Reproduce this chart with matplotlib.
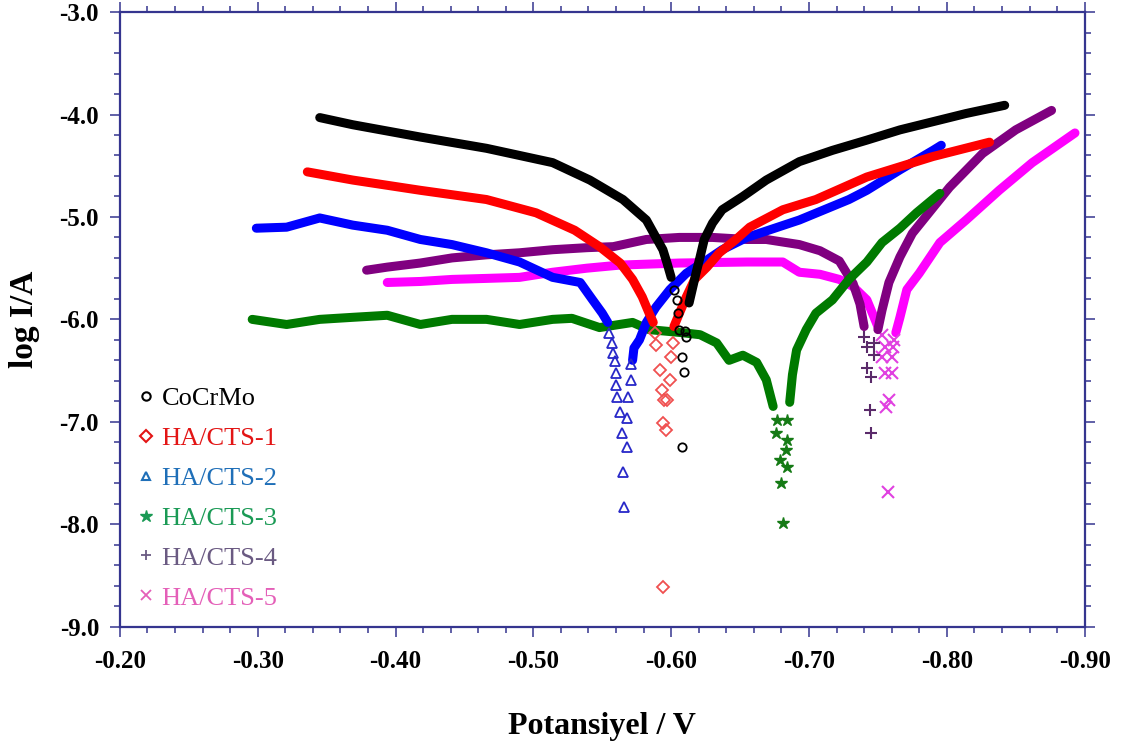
import matplotlib
matplotlib.use("Agg")
import matplotlib.pyplot as plt
from matplotlib.ticker import MultipleLocator, FormatStrFormatter
from matplotlib.lines import Line2D

plt.rcParams['font.family'] = ['Liberation Serif', 'DejaVu Serif']
plt.rcParams['font.weight'] = 'bold'

# ---- data (potential / V, log I/A) ----
# CoCrMo
cocrmo_cath_v = [-0.345, -0.369, -0.418, -0.466, -0.514, -0.541, -0.565, -0.582, -0.589, -0.594, -0.597, -0.600]
cocrmo_cath_i = [-4.03, -4.10, -4.22, -4.33, -4.47, -4.64, -4.83, -5.03, -5.20, -5.32, -5.45, -5.59]
cocrmo_anod_v = [-0.613, -0.618, -0.621, -0.624, -0.630, -0.637, -0.652, -0.669, -0.693, -0.717, -0.742, -0.766, -0.790, -0.814, -0.842]
cocrmo_anod_i = [-5.84, -5.55, -5.39, -5.22, -5.06, -4.93, -4.80, -4.64, -4.46, -4.35, -4.25, -4.15, -4.07, -3.99, -3.91]
cocrmo_tip_v = [-0.602, -0.604, -0.605, -0.606, -0.610, -0.611, -0.608, -0.609, -0.608]
cocrmo_tip_i = [-5.71, -5.81, -5.94, -6.10, -6.11, -6.17, -6.37, -6.51, -7.25]

# HA/CTS-1
cts1_cath_v = [-0.336, -0.369, -0.418, -0.466, -0.502, -0.530, -0.548, -0.563, -0.572, -0.579, -0.584, -0.587]
cts1_cath_i = [-4.56, -4.64, -4.74, -4.83, -4.96, -5.13, -5.29, -5.45, -5.61, -5.78, -5.94, -6.03]
cts1_anod_v = [-0.602, -0.606, -0.611, -0.617, -0.626, -0.635, -0.647, -0.657, -0.681, -0.705, -0.742, -0.790, -0.831]
cts1_anod_i = [-6.07, -5.94, -5.78, -5.61, -5.49, -5.35, -5.22, -5.10, -4.93, -4.83, -4.61, -4.41, -4.27]
cts1_tip_v = [-0.588, -0.589, -0.592, -0.593, -0.595, -0.594, -0.596, -0.594, -0.597, -0.599, -0.600, -0.601]
cts1_tip_i = [-6.13, -6.25, -6.49, -6.69, -6.79, -7.01, -7.08, -8.61, -6.79, -6.59, -6.37, -6.23]

# HA/CTS-2
cts2_cath_v = [-0.299, -0.321, -0.345, -0.369, -0.394, -0.418, -0.441, -0.466, -0.490, -0.514, -0.534, -0.543, -0.550, -0.554]
cts2_cath_i = [-5.11, -5.10, -5.01, -5.08, -5.13, -5.22, -5.27, -5.35, -5.44, -5.59, -5.64, -5.81, -5.94, -6.03]
cts2_anod_v = [-0.572, -0.573, -0.577, -0.582, -0.589, -0.599, -0.611, -0.626, -0.637, -0.655, -0.693, -0.729, -0.742, -0.766, -0.790, -0.796]
cts2_anod_i = [-6.40, -6.28, -6.20, -6.03, -5.88, -5.71, -5.55, -5.42, -5.32, -5.20, -5.03, -4.83, -4.74, -4.54, -4.35, -4.30]
cts2_tip_v = [-0.555, -0.557, -0.558, -0.559, -0.560, -0.560, -0.561, -0.563, -0.564, -0.565, -0.566,
              -0.568, -0.568, -0.569, -0.571, -0.571]
cts2_tip_i = [-6.13, -6.23, -6.33, -6.41, -6.52, -6.64, -6.76, -6.90, -7.11, -7.49, -7.83,
              -7.25, -6.96, -6.76, -6.59, -6.44]

# HA/CTS-3
cts3_cath_v = [-0.296, -0.321, -0.345, -0.369, -0.394, -0.418, -0.441, -0.466, -0.490, -0.514, -0.528,
               -0.548, -0.572, -0.584, -0.608, -0.621, -0.633, -0.642, -0.652, -0.662, -0.669, -0.674]
cts3_cath_i = [-6.00, -6.05, -6.00, -5.98, -5.96, -6.05, -6.00, -6.00, -6.05, -6.00, -5.99,
               -6.08, -6.03, -6.10, -6.13, -6.15, -6.23, -6.40, -6.35, -6.42, -6.59, -6.85]
cts3_anod_v = [-0.686, -0.688, -0.691, -0.698, -0.705, -0.717, -0.729, -0.742, -0.753, -0.766, -0.778, -0.795]
cts3_anod_i = [-6.81, -6.54, -6.30, -6.10, -5.94, -5.81, -5.61, -5.44, -5.25, -5.11, -4.96, -4.77]
cts3_tip_v = [-0.676, -0.679, -0.680, -0.681, -0.684, -0.684, -0.684, -0.677, -0.683]
cts3_tip_i = [-7.11, -7.37, -7.60, -7.99, -7.44, -7.18, -6.98, -6.98, -7.28]

# HA/CTS-4
cts4_cath_v = [-0.379, -0.394, -0.418, -0.441, -0.466, -0.490, -0.514, -0.539, -0.558, -0.582, -0.606,
               -0.630, -0.655, -0.669, -0.693, -0.708, -0.722, -0.732, -0.737, -0.740]
cts4_cath_i = [-5.52, -5.49, -5.45, -5.40, -5.37, -5.35, -5.32, -5.30, -5.29, -5.22, -5.20,
               -5.20, -5.22, -5.22, -5.27, -5.33, -5.43, -5.65, -5.85, -6.07]
cts4_anod_v = [-0.750, -0.753, -0.758, -0.766, -0.775, -0.802, -0.826, -0.850, -0.876]
cts4_anod_i = [-6.10, -5.91, -5.64, -5.39, -5.16, -4.71, -4.38, -4.15, -3.96]
cts4_tip_v = [-0.740, -0.742, -0.742, -0.745, -0.744, -0.745, -0.747, -0.747]
cts4_tip_i = [-6.17, -6.27, -6.47, -6.56, -6.88, -7.11, -6.23, -6.35]

# HA/CTS-5
cts5_cath_v = [-0.394, -0.418, -0.441, -0.466, -0.490, -0.514, -0.539, -0.563, -0.606, -0.655, -0.681,
               -0.693, -0.708, -0.722, -0.732, -0.742, -0.746, -0.750]
cts5_cath_i = [-5.64, -5.63, -5.61, -5.60, -5.59, -5.54, -5.50, -5.47, -5.45, -5.44, -5.44,
               -5.54, -5.56, -5.61, -5.68, -5.81, -5.94, -6.07]
cts5_anod_v = [-0.763, -0.766, -0.771, -0.780, -0.795, -0.814, -0.838, -0.862, -0.893]
cts5_anod_i = [-6.13, -5.98, -5.71, -5.55, -5.25, -5.03, -4.74, -4.47, -4.18]
cts5_tip_v = [-0.753, -0.755, -0.753, -0.755, -0.760, -0.756, -0.758, -0.757, -0.760, -0.761, -0.762]
cts5_tip_i = [-6.15, -6.27, -6.37, -6.52, -6.52, -6.86, -6.79, -7.69, -6.37, -6.27, -6.20]

labels = ['CoCrMo', 'HA/CTS-1', 'HA/CTS-2', 'HA/CTS-3', 'HA/CTS-4', 'HA/CTS-5']
xticks = [-0.20, -0.30, -0.40, -0.50, -0.60, -0.70, -0.80, -0.90]
yticks = [-3.0, -4.0, -5.0, -6.0, -7.0, -8.0, -9.0]

series = [
    # label, cath, anod, tips, band colour, marker, marker colour
    ('HA/CTS-5', cts5_cath_v, cts5_cath_i, cts5_anod_v, cts5_anod_i, cts5_tip_v, cts5_tip_i, '#ff00ff', 'x', '#e040e0'),
    ('HA/CTS-4', cts4_cath_v, cts4_cath_i, cts4_anod_v, cts4_anod_i, cts4_tip_v, cts4_tip_i, '#800080', '+', '#5a2a6a'),
    ('HA/CTS-3', cts3_cath_v, cts3_cath_i, cts3_anod_v, cts3_anod_i, cts3_tip_v, cts3_tip_i, '#007a00', '*', '#157a15'),
    ('HA/CTS-2', cts2_cath_v, cts2_cath_i, cts2_anod_v, cts2_anod_i, cts2_tip_v, cts2_tip_i, '#0000ff', '^', '#2828c8'),
    ('HA/CTS-1', cts1_cath_v, cts1_cath_i, cts1_anod_v, cts1_anod_i, cts1_tip_v, cts1_tip_i, '#ff0000', 'D', '#f05050'),
    ('CoCrMo', cocrmo_cath_v, cocrmo_cath_i, cocrmo_anod_v, cocrmo_anod_i, cocrmo_tip_v, cocrmo_tip_i, '#000000', 'o', '#000000'),
]

axis_col = '#35358f'

fig = plt.figure(figsize=(11.31, 7.55), dpi=100)
ax = fig.add_axes([0.106, 0.170, 0.853, 0.814])

for name, cv, ci, av, ai, tv, ti, col, mk, mcol in series:
    ax.plot(cv, ci, color=col, lw=6.5, solid_capstyle='round', solid_joinstyle='round')
    ax.plot(av, ai, color=col, lw=6.5, solid_capstyle='round', solid_joinstyle='round')
    if mk in ('x', '+'):
        ax.plot(tv, ti, ls='none', marker=mk, ms=8, mew=1.5, color=mcol)
    elif mk == '*':
        ax.plot(tv, ti, ls='none', marker=mk, ms=9, mew=1.0, color=mcol)
    else:
        ax.plot(tv, ti, ls='none', marker=mk, ms=6 if mk != '^' else 7, mew=1.3,
                mfc='none', mec=mcol)

ax.set_xlim(-0.20, -0.90)
ax.set_ylim(-9.0, -3.0)
ax.set_xticks(xticks)
ax.set_yticks(yticks)
ax.xaxis.set_minor_locator(MultipleLocator(0.02))
ax.yaxis.set_minor_locator(MultipleLocator(0.2))
ax.xaxis.set_major_formatter(FormatStrFormatter('%.2f'))
ax.yaxis.set_major_formatter(FormatStrFormatter('%.1f'))

for s in ax.spines.values():
    s.set_color(axis_col)
    s.set_linewidth(1.6)
ax.tick_params(which='both', direction='out', top=True, right=True, color=axis_col, width=1.1)
ax.tick_params(which='major', length=7)
ax.tick_params(which='minor', length=4.5)
ax.tick_params(axis='x', which='major', labelsize=18, pad=10)
ax.tick_params(axis='y', which='major', labelsize=18, pad=8)
for lab in ax.get_xticklabels() + ax.get_yticklabels():
    lab.set_fontweight('bold')

ax.set_xlabel('Potansiyel / V', fontsize=23, fontweight='bold', labelpad=28)
ax.set_ylabel('log I/A', fontsize=24, fontweight='bold', labelpad=14)

# legend
leg_cols = ['#000000', '#e31515', '#1f6fb8', '#1a9a55', '#6a5a82', '#e45fb8']
leg_marks = ['o', 'D', '^', '*', '+', 'x']
handles = []
for lab, c, m in zip(labels, leg_cols, leg_marks):
    if m in ('+', 'x'):
        h = Line2D([], [], ls='none', marker=m, ms=7, mew=1.3, color=c)
    elif m == '*':
        h = Line2D([], [], ls='none', marker=m, ms=9, color=c)
    else:
        h = Line2D([], [], ls='none', marker=m, ms=6, mew=1.5, mfc='none', mec=c)
    handles.append(h)
leg = ax.legend(handles, labels, loc='center left', bbox_to_anchor=(-0.006, 0.209),
                frameon=False, handlelength=0.6, handletextpad=0.3, labelspacing=0.62,
                prop={'size': 19, 'weight': 'normal'}, labelcolor=leg_cols)

fig.savefig('out.png', dpi=100)
